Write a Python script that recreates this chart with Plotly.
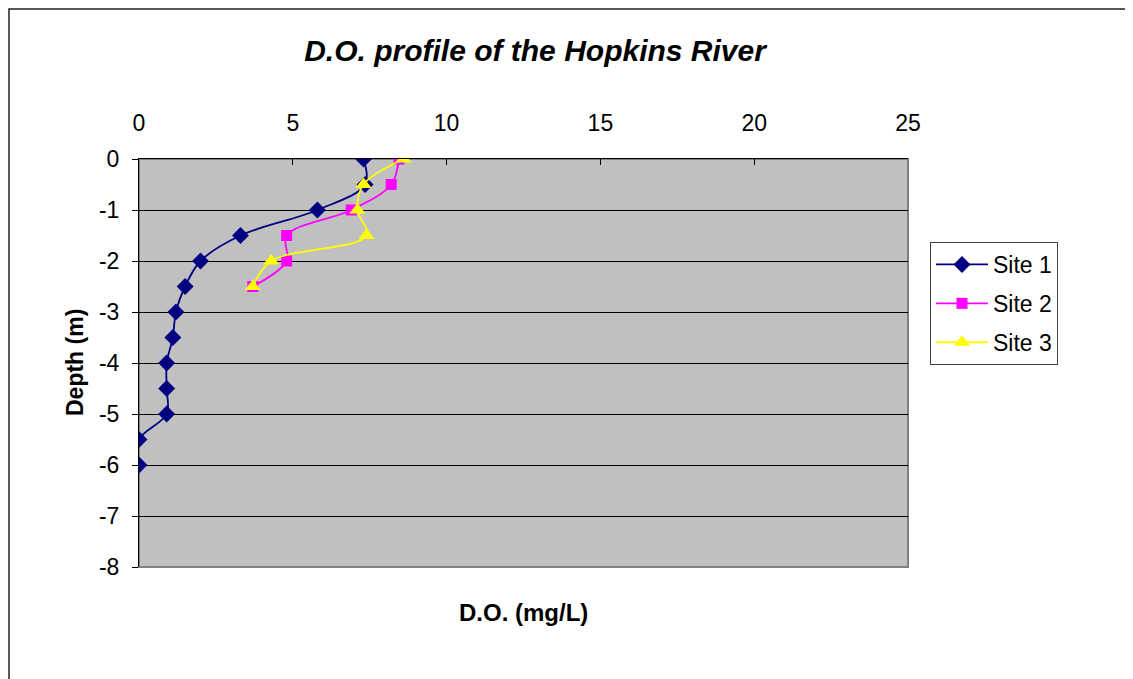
import plotly.graph_objects as go

depth_site1 = [0, -0.5, -1, -1.5, -2, -2.5, -3, -3.5, -4, -4.5, -5, -5.5, -6]
do_site1 = [7.3, 7.35, 5.8, 3.3, 2.0, 1.5, 1.2, 1.1, 0.9, 0.9, 0.9, 0.0, 0.0]

depth_site2 = [0, -0.5, -1, -1.5, -2, -2.5]
do_site2 = [8.45, 8.2, 6.9, 4.8, 4.8, 3.7]

depth_site3 = [0, -0.5, -1, -1.5, -2, -2.5]
do_site3 = [8.6, 7.3, 7.1, 7.4, 4.3, 3.7]

x_ticks = [0, 5, 10, 15, 20, 25]
y_ticks = [0, -1, -2, -3, -4, -5, -6, -7, -8]
y_tick_labels = ["0", "-1", "-2", "-3", "-4", "-5", "-6", "-7", "-8"]

FONT = "Liberation Sans, Arial, sans-serif"

fig = go.Figure()
fig.add_trace(go.Scatter(
    x=do_site1, y=depth_site1, name="Site 1", mode="lines+markers",
    line=dict(color="#000080", width=1.8, shape="spline"),
    marker=dict(symbol="diamond", size=13, color="#000080"),
    legendgroup="g1"))
fig.add_trace(go.Scatter(
    x=do_site2, y=depth_site2, name="Site 2", mode="lines+markers",
    line=dict(color="#FF00FF", width=1.8, shape="spline"),
    marker=dict(symbol="square", size=11, color="#FF00FF"),
    legendgroup="g2"))
fig.add_trace(go.Scatter(
    x=do_site3, y=depth_site3, name="Site 3", mode="lines+markers",
    line=dict(color="#FFFF00", width=1.8, shape="spline"),
    marker=dict(symbol="triangle-up", size=14, color="#FFFF00"),
    legendgroup="g3"))

# page has an 8px body offset; plot area lands at x 139..908, y 159..567
fig.update_layout(
    width=1125, height=671,
    margin=dict(l=131, r=225, t=151, b=112),
    paper_bgcolor="white",
    plot_bgcolor="#C0C0C0",
    font=dict(family=FONT, size=23, color="black"),
    title=dict(text="<b><i>D.O. profile of the Hopkins River</i></b>",
               font=dict(family=FONT, size=30, color="black"),
               x=527/1125, xref="container", xanchor="center",
               y=1-42/671, yref="container", yanchor="middle"),
    showlegend=True,
    legend=dict(x=(930-139)/769, xanchor="left", y=(567-242)/408, yanchor="top",
                bgcolor="white", bordercolor="#404040", borderwidth=1,
                font=dict(family=FONT, size=23, color="black"),
                itemwidth=52,
                tracegroupgap=6, traceorder="grouped"),
    xaxis=dict(range=[0, 25], side="top", tickvals=x_ticks,
               showgrid=False, zeroline=False,
               showline=True, linecolor="black", linewidth=1,
               ticks="inside", ticklen=6, tickcolor="black",
               ticklabelstandoff=18,
               tickfont=dict(family=FONT, size=23, color="black")),
    yaxis=dict(range=[-8, 0], tickvals=y_ticks, ticktext=y_tick_labels,
               showgrid=True, gridcolor="black", gridwidth=1,
               zeroline=False,
               showline=True, linecolor="black", linewidth=1,
               ticks="outside", ticklen=6, tickcolor="black",
               ticklabelstandoff=8,
               tickfont=dict(family=FONT, size=23, color="black")),
    shapes=[
        dict(type="rect", xref="paper", yref="paper", x0=0, x1=1, y0=0, y1=1,
             line=dict(color="#808080", width=2), layer="below"),
        dict(type="rect", xref="paper", yref="paper",
             x0=(1-131)/769, x1=1.5, y0=-0.5, y1=(559-1)/408,
             line=dict(color="#202020", width=1.5)),
    ],
    annotations=[
        dict(text="<b>D.O. (mg/L)</b>", xref="paper", yref="paper",
             x=0.5, y=(567-612)/408, xanchor="center", yanchor="middle",
             showarrow=False, font=dict(family=FONT, size=24, color="black")),
        dict(text="<b>Depth (m)</b>", xref="paper", yref="paper",
             x=(75-139)/769, y=0.5, xanchor="center", yanchor="middle",
             textangle=-90, showarrow=False,
             font=dict(family=FONT, size=23, color="black")),
    ],
)

fig.write_html("out.html")
